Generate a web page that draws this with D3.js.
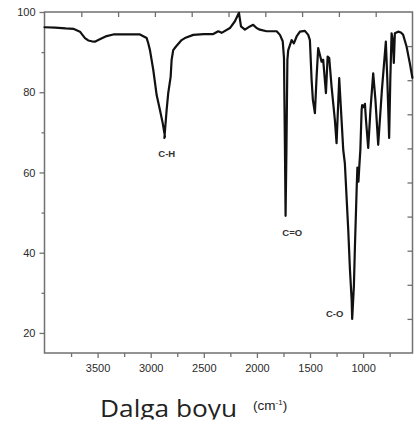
<!DOCTYPE html>
<html>
<head>
<meta charset="utf-8">
<script src="https://cdn.jsdelivr.net/npm/d3@7"></script>
<style>
html,body{margin:0;padding:0;background:#fff;}
svg{display:block;}
</style>
</head>
<body>
<svg id="chart" width="414" height="430"></svg>
<script>
// Wavenumber (cm^-1) values of the trace
const wavenumbers = [4000,3995,3900,3800,3729,3666,3619,3588,3555,3525,3494,3415,3352,3250,3150,3101,3038,3023,3007,2976,2944,2913,2887,2866,2871,2850,2835,2812,2803,2788,2762,2709,2678,2599,2500,2411,2364,2332,2254,2207,2169,2150,2113,2066,2035,2003,1972,1909,1814,1783,1757,1745,1736,1730,1722,1713,1705,1673,1652,1626,1595,1548,1517,1501,1485,1473,1454,1438,1423,1391,1376,1350,1334,1319,1297,1266,1250,1225,1203,1187,1172,1140,1124,1108,1103,1087,1077,1061,1054,1044,1035,1026,1014,1009,997,983,973,952,931,905,884,858,823,786,772,755,744,732,720,711,701,670,644,623,591,560,536];
// Transmittance (%) values of the trace
const transmittance = [96.2,96.2,96.1,95.9,95.8,95.1,93.5,92.9,92.7,92.6,93.0,94.0,94.4,94.4,94.4,94.4,93.5,92.2,90.5,85.6,79.3,75.6,72.3,69.0,68.6,75.6,79.8,83.9,88.1,90.5,91.4,93.0,93.5,94.3,94.5,94.5,95.2,94.8,96.0,97.7,99.8,96.4,95.6,96.4,96.8,96.0,95.6,95.2,95.2,94.3,92.7,88.5,65.6,49.2,65.6,88.1,90.5,93.0,92.2,93.9,95.1,95.3,94.3,93.0,83.1,78.1,74.8,83.9,91.0,87.6,88.1,79.8,88.9,88.5,81.4,73.1,67.3,83.5,73.1,65.6,62.3,45.7,35.8,28.3,23.5,31.6,41.6,55.7,61.2,57.7,61.9,65.6,75.6,76.8,76.3,77.1,73.1,66.1,75.6,84.7,78.1,66.9,80.6,92.6,83.1,68.6,83.1,94.7,93.0,87.3,94.7,95.1,94.9,94.3,91.4,87.2,83.6];

const xMajorTicks = [3500,3000,2500,2000,1500,1000];
const xMinorTicks = [3750,3250,2750,2250,1750,1250,750];
const yMajorTicks = [20,40,60,80,100];
const yMinorTicks = [30,50,70,90];
const frameDivisions = [1,2,3,4,5,6,7,8,9];

const peakLabels = ["C-H","C=O","C-O"];
const peakWavenumbers = [2849,1667,1268];
const peakLabelT = [63.8,44.2,24.05];

const xTitle = "Dalga boyu";
const xUnit = "(cm";
const xUnitSup = "-1";

const svg = d3.select("#chart");
const L = 44.5, R = 412.5, T = 12, B = 353;

const x = d3.scaleLinear().domain([4000, 535]).range([L, R]);
const y = d3.scaleLinear().domain([15, 100]).range([B, T]);
const fx = d3.scaleLinear().domain([0, 10]).range([L, R]);
const fy = d3.scaleLinear().domain([0, 10]).range([B, T]);

const frameColor = "#707070";
const textColor = "#2a2a2a";

const gxMaj = svg.append("g").attr("transform", `translate(0,${B})`)
  .call(d3.axisBottom(x).tickValues(xMajorTicks).tickSize(5).tickPadding(6).tickFormat(d3.format("d")));
const gxMin = svg.append("g").attr("transform", `translate(0,${B})`)
  .call(d3.axisBottom(x).tickValues(xMinorTicks).tickSize(4).tickFormat(""));
const gyMaj = svg.append("g").attr("transform", `translate(${L},0)`)
  .call(d3.axisLeft(y).tickValues(yMajorTicks).tickSize(5).tickPadding(4));
const gyMin = svg.append("g").attr("transform", `translate(${L},0)`)
  .call(d3.axisLeft(y).tickValues(yMinorTicks).tickSize(3).tickFormat(""));
const gTop = svg.append("g").attr("transform", `translate(0,${T})`)
  .call(d3.axisTop(fx).tickValues(frameDivisions).tickSize(-5).tickFormat(""));
const gRight = svg.append("g").attr("transform", `translate(${R},0)`)
  .call(d3.axisRight(fy).tickValues(frameDivisions).tickSize(-5).tickFormat(""));

[gxMaj,gxMin,gyMaj,gyMin,gTop,gRight].forEach(g=>{
  g.select(".domain").remove();
  g.selectAll("line").attr("stroke", frameColor).attr("stroke-width", 1.3);
  g.selectAll("text").attr("fill", textColor)
    .style("font-family", "'Liberation Sans', Arial, sans-serif").style("font-size", "11px");
});

svg.append("rect").attr("x", L).attr("y", T).attr("width", R - L).attr("height", B - T)
  .attr("fill", "none").attr("stroke", frameColor).attr("stroke-width", 1.5);

const pts = wavenumbers.map((w,i)=>[w, transmittance[i]]);
const line = d3.line().x(d=>x(d[0])).y(d=>y(d[1]));
svg.append("path").datum(pts).attr("d", line)
  .attr("fill","none").attr("stroke","#111").attr("stroke-width",2.2)
  .attr("stroke-linejoin","round").attr("stroke-linecap","round");

svg.selectAll("text.peak").data(peakLabels).enter().append("text")
  .attr("class","peak")
  .attr("x",(d,i)=>x(peakWavenumbers[i]))
  .attr("y",(d,i)=>y(peakLabelT[i]))
  .attr("text-anchor","middle")
  .attr("fill", "#333")
  .style("font-family","'Liberation Sans', Arial, sans-serif")
  .style("font-size","9.5px").style("font-weight","bold")
  .text(d=>d);

// clip the title just under its baseline, as in the reference
svg.append("defs").append("clipPath").attr("id","titleClip")
  .append("rect").attr("x",0).attr("y",380).attr("width",414).attr("height",39.5);

svg.append("text").attr("x", 100).attr("y", 417.3)
  .attr("clip-path","url(#titleClip)")
  .attr("textLength", 137).attr("lengthAdjust","spacingAndGlyphs")
  .attr("fill","#222")
  .style("font-family","'Open Sans', sans-serif").style("font-size","23.5px")
  .text(xTitle);
const unit = svg.append("text").attr("x", 253).attr("y", 410.3)
  .attr("fill","#222")
  .style("font-family","'Liberation Sans', Arial, sans-serif").style("font-size","13.5px");
unit.append("tspan").text(xUnit);
unit.append("tspan").attr("dy",-5.5).style("font-size","8px").text(xUnitSup);
unit.append("tspan").attr("dy",5.5).text(")");
</script>
</body>
</html>
